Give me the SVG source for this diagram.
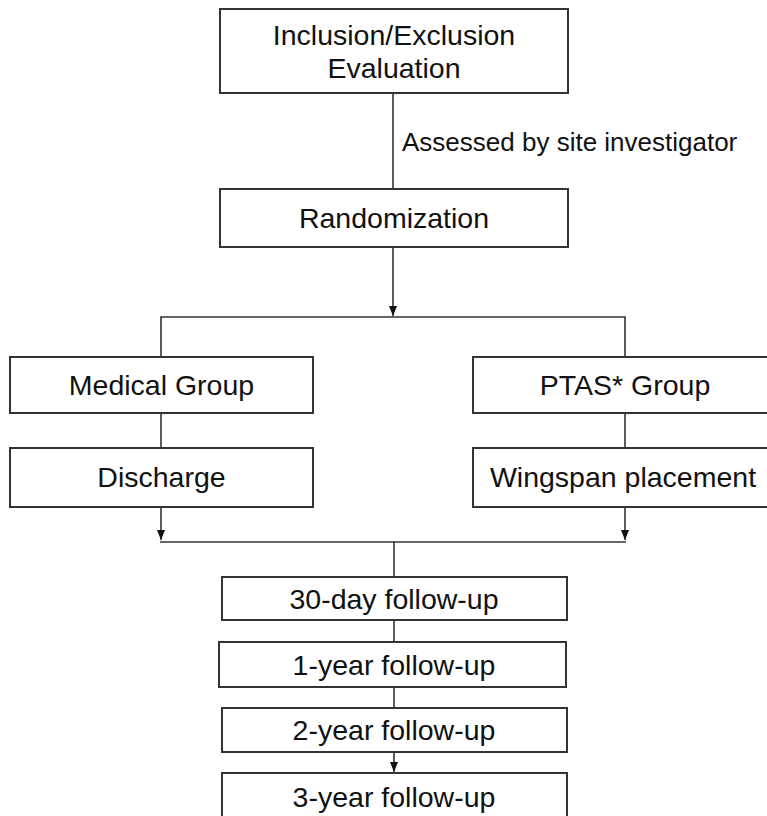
<svg xmlns="http://www.w3.org/2000/svg" width="767" height="816" viewBox="0 0 767 816">
<style>
  .box { fill: #ffffff; stroke: #333333; stroke-width: 2; }
  .t { font-family: "Liberation Sans", Arial, sans-serif; font-size: 28.5px; fill: #111111; text-anchor: middle; }
  .lbl { font-family: "Liberation Sans", Arial, sans-serif; font-size: 26px; fill: #111111; }
  .ln { fill: none; stroke: #333333; stroke-width: 1.6; }
</style>
<defs>
  <marker id="arr" markerWidth="10" markerHeight="8" refX="10" refY="4" orient="auto" markerUnits="userSpaceOnUse" viewBox="0 0 10 8">
    <path d="M0,0 L10,4 L0,8 Z" fill="#111111"/>
  </marker>
</defs>
<rect width="767" height="816" fill="#ffffff"/>
<g id="connectors">
  <line class="ln" x1="393" y1="93" x2="393" y2="189"/>
  <text class="lbl" x="402" y="151">Assessed by site investigator</text>
  <line class="ln" x1="393" y1="247" x2="393" y2="316" marker-end="url(#arr)"/>
  <path class="ln" d="M161,357 V317 H625 V357"/>
  <line class="ln" x1="161" y1="413" x2="161" y2="448"/>
  <line class="ln" x1="625" y1="413" x2="625" y2="448"/>
  <line class="ln" x1="161" y1="507" x2="161" y2="540" marker-end="url(#arr)"/>
  <line class="ln" x1="625" y1="507" x2="625" y2="540" marker-end="url(#arr)"/>
  <line class="ln" x1="160" y1="542" x2="626" y2="542"/>
  <line class="ln" x1="394" y1="542" x2="394" y2="577"/>
  <line class="ln" x1="394" y1="620" x2="394" y2="642"/>
  <line class="ln" x1="394" y1="687" x2="394" y2="708"/>
  <line class="ln" x1="394" y1="752" x2="394" y2="772" marker-end="url(#arr)"/>
</g>
<g id="inclusion">
  <rect class="box" x="220" y="9" width="348" height="84"/>
  <text class="t" x="394" y="45">Inclusion/Exclusion</text>
  <text class="t" x="394" y="78">Evaluation</text>
</g>
<g id="randomization">
  <rect class="box" x="220" y="189" width="348" height="58"/>
  <text class="t" x="394" y="228">Randomization</text>
</g>
<g id="medical">
  <rect class="box" x="10" y="357" width="303" height="56"/>
  <text class="t" x="161.5" y="395">Medical Group</text>
</g>
<g id="ptas">
  <rect class="box" x="473" y="357" width="304" height="56"/>
  <text class="t" x="625" y="395">PTAS* Group</text>
</g>
<g id="discharge">
  <rect class="box" x="10" y="448" width="303" height="59"/>
  <text class="t" x="161.5" y="487">Discharge</text>
</g>
<g id="wingspan">
  <rect class="box" x="473" y="448" width="304" height="59"/>
  <text class="t" x="623" y="487">Wingspan placement</text>
</g>
<g id="fu30">
  <rect class="box" x="222" y="577" width="345" height="43"/>
  <text class="t" x="394" y="609">30-day follow-up</text>
</g>
<g id="fu1">
  <rect class="box" x="219" y="642" width="347" height="45"/>
  <text class="t" x="394" y="675">1-year follow-up</text>
</g>
<g id="fu2">
  <rect class="box" x="222" y="708" width="345" height="44"/>
  <text class="t" x="394" y="740">2-year follow-up</text>
</g>
<g id="fu3">
  <rect class="box" x="222" y="773" width="345" height="50"/>
  <text class="t" x="394" y="807">3-year follow-up</text>
</g>
</svg>
